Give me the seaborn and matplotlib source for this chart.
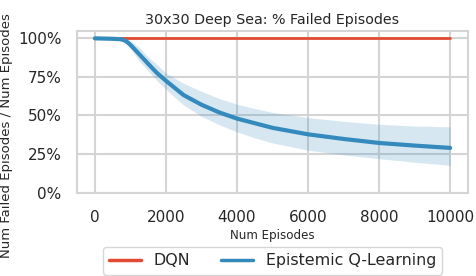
import seaborn as sns
import matplotlib.pyplot as plt
import matplotlib.ticker as mtick
import pandas as pd

episodes = [0, 500, 700, 800, 900, 1000, 1250, 1500, 1750, 2000, 2500, 3000,
            3500, 4000, 4500, 5000, 6000, 7000, 8000, 9000, 10000]
eql_mean = [1.0, 0.997, 0.995, 0.99, 0.978, 0.958, 0.897, 0.835, 0.775, 0.725,
            0.632, 0.57, 0.52, 0.48, 0.45, 0.42, 0.378, 0.348, 0.322, 0.305, 0.29]
eql_upper = [1.0, 1.0, 1.0, 1.0, 0.995, 0.985, 0.94, 0.88, 0.83, 0.775, 0.708,
             0.657, 0.61, 0.573, 0.545, 0.52, 0.487, 0.462, 0.443, 0.432, 0.426]
eql_lower = [1.0, 0.995, 0.99, 0.982, 0.962, 0.935, 0.852, 0.79, 0.725, 0.67,
             0.567, 0.495, 0.44, 0.394, 0.355, 0.322, 0.275, 0.245, 0.22, 0.197,
             0.177]
dqn_x = [0, 10000]
dqn_y = [1.0, 1.0]

sns.set_style("whitegrid")
plt.rcParams['font.family'] = ['DejaVu Sans']

fig, ax = plt.subplots(figsize=(4.76, 2.76), dpi=100)
fig.subplots_adjust(left=0.162, right=0.983, top=0.889, bottom=0.302)

dqn = pd.DataFrame({'x': dqn_x, 'y': dqn_y})
eql = pd.DataFrame({'x': episodes, 'y': eql_mean})

sns.lineplot(data=dqn, x='x', y='y', ax=ax, color='#E24A33', lw=2, label='DQN')
ax.fill_between(episodes, eql_lower, eql_upper, color='#348ABD', alpha=0.2, lw=0)
sns.lineplot(data=eql, x='x', y='y', ax=ax, color='#348ABD', lw=3,
             label='Epistemic Q-Learning')

ax.set_ylim(0, 1.05)
ax.set_xticks([0, 2000, 4000, 6000, 8000, 10000])
ax.set_yticks([0, 0.25, 0.5, 0.75, 1.0])
ax.yaxis.set_major_formatter(mtick.PercentFormatter(1.0, decimals=0))
ax.tick_params(axis='x', labelsize=11, pad=9)
ax.tick_params(axis='y', labelsize=11, pad=7.6)
ax.grid(lw=1.5, color='.83')
for s in ax.spines.values():
    s.set_color('.83')
    s.set_linewidth(1.5)

ax.set_title("30x30 Deep Sea: % Failed Episodes", fontsize=10.3, pad=5)
ax.set_xlabel("Num Episodes", fontsize=8.6, labelpad=3)
ax.set_ylabel("Num Failed Episodes / Num Episodes", fontsize=9.5)
ax.yaxis.set_label_coords(-0.163, 0.353)

leg = ax.legend(loc='center', bbox_to_anchor=(0.5, -0.42), ncol=2,
                fontsize=11.4, frameon=True)
for h in leg.get_lines():
    h.set_linewidth(2.5)

plt.savefig("out.png", dpi=100)
